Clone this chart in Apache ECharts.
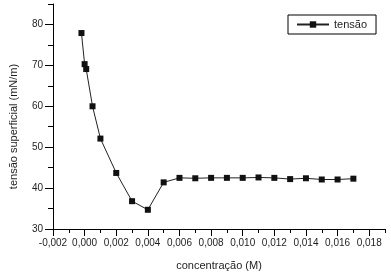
<!DOCTYPE html>
<html>
<head>
<meta charset="utf-8">
<script src="https://cdn.jsdelivr.net/npm/echarts@6/dist/echarts.min.js"></script>
<style>
html,body{margin:0;padding:0;background:#fff;}
#c{width:391px;height:276px;}
</style>
</head>
<body>
<div id="c"></div>
<script>
const seriesName = 'tensão';
const concentration = [-0.0002, 0.0000, 0.0001, 0.0005, 0.001, 0.002, 0.003, 0.004, 0.005, 0.006, 0.007, 0.008, 0.009, 0.010, 0.011, 0.012, 0.013, 0.014, 0.015, 0.016, 0.017];
const tension = [77.9, 70.3, 69.1, 60.0, 52.1, 43.7, 36.8, 34.7, 41.4, 42.5, 42.4, 42.5, 42.5, 42.5, 42.6, 42.5, 42.2, 42.4, 42.1, 42.1, 42.3];
const xMajorTicks = [-0.002, 0.000, 0.002, 0.004, 0.006, 0.008, 0.010, 0.012, 0.014, 0.016, 0.018];
const yMajorTicks = [30, 40, 50, 60, 70, 80];
const xAxisTitle = 'concentração (M)';
const yAxisTitle = 'tensão superficial (mN/m)';

const FONT = "'Liberation Sans', Arial, Helvetica, sans-serif";
const TXT = '#1e1e1e';
const X_MIN = -0.002, X_MAX = 0.019, Y_MIN = 30, Y_MAX = 85;

function fmtX(v) {
  const k = Math.round(v * 1000);
  return (k / 1000).toFixed(3).replace('.', ',');
}

const chart = echarts.init(document.getElementById('c'), null, {renderer: 'canvas'});
chart.setOption({
  animation: false,
  backgroundColor: '#fff',
  grid: {left: 47, right: 6, top: 4, bottom: 44, containLabel: false},
  legend: {
    show: true,
    left: 288, top: 15,
    padding: [4, 9, 4, 8],
    borderColor: '#000', borderWidth: 1, borderRadius: 0,
    itemWidth: 32, itemHeight: 8,
    textStyle: {fontFamily: FONT, fontSize: 11, color: TXT},
    data: [seriesName]
  },
  xAxis: [{
    type: 'value',
    min: X_MIN, max: X_MAX, interval: 0.001,
    position: 'bottom',
    name: xAxisTitle, nameLocation: 'middle', nameGap: 31,
    nameTextStyle: {fontFamily: FONT, fontSize: 11, color: TXT},
    axisLine: {show: true, onZero: false, lineStyle: {color: '#000', width: 1}},
    axisTick: {show: true, length: 7, customValues: xMajorTicks, lineStyle: {color: '#000'}},
    splitLine: {show: false},
    axisLabel: {
      margin: 9, fontFamily: FONT, fontSize: 10, color: TXT,
      customValues: xMajorTicks,
      formatter: fmtX
    }
  }, {
    type: 'value',
    min: X_MIN, max: X_MAX, interval: 0.001,
    position: 'bottom',
    axisLine: {show: false, onZero: false},
    axisTick: {show: true, length: 4, lineStyle: {color: '#000'}},
    axisLabel: {show: false},
    splitLine: {show: false}
  }],
  yAxis: [{
    type: 'value',
    min: Y_MIN, max: Y_MAX, interval: 5,
    position: 'left',
    name: yAxisTitle, nameLocation: 'middle', nameGap: 34,
    nameTextStyle: {fontFamily: FONT, fontSize: 11, color: TXT, padding: [0, 20, 0, 0]},
    axisLine: {show: true, onZero: false, lineStyle: {color: '#000', width: 1}},
    axisTick: {show: true, length: 8, customValues: yMajorTicks, lineStyle: {color: '#000'}},
    splitLine: {show: false},
    axisLabel: {
      margin: 10, fontFamily: FONT, fontSize: 10, color: TXT,
      customValues: yMajorTicks,
      formatter: function (v) { return String(Math.round(v)); }
    }
  }, {
    type: 'value',
    min: Y_MIN, max: Y_MAX, interval: 5,
    position: 'left',
    axisLine: {show: false, onZero: false},
    axisTick: {show: true, length: 5, lineStyle: {color: '#000'}},
    axisLabel: {show: false},
    splitLine: {show: false}
  }],
  series: [{
    name: seriesName,
    type: 'line',
    xAxisIndex: 0, yAxisIndex: 0,
    data: concentration.map((c, i) => [c, tension[i]]),
    symbol: 'rect', symbolSize: 6, showSymbol: true,
    lineStyle: {color: '#222', width: 1},
    itemStyle: {color: '#111', borderWidth: 0}
  }]
});
</script>
</body>
</html>
